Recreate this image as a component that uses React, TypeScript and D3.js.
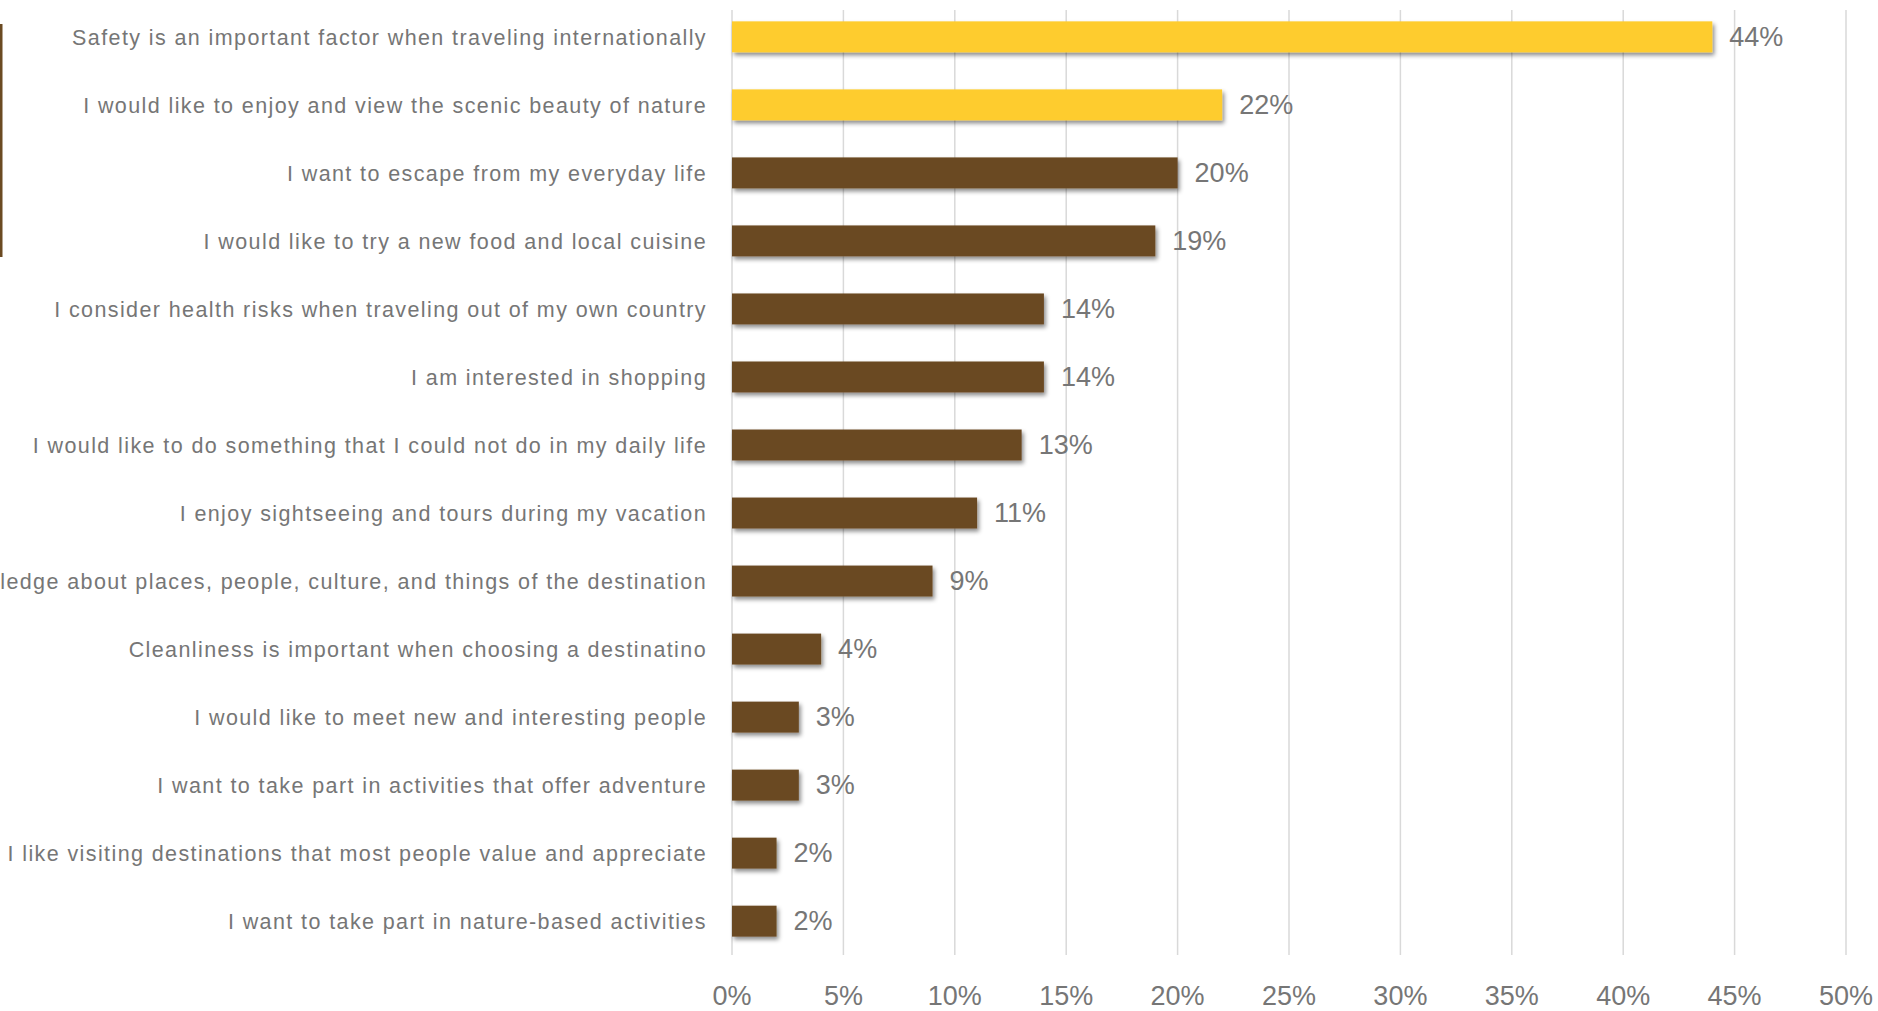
import React from "react";
import * as d3 from "d3";

const categories = [
  "Safety is an important factor when traveling internationally",
  "I would like to enjoy and view the scenic beauty of nature",
  "I want to escape from my everyday life",
  "I would like to try a new food and local cuisine",
  "I consider health risks when traveling out of my own country",
  "I am interested in shopping",
  "I would like to do something that I could not do in my daily life",
  "I enjoy sightseeing and tours during my vacation",
  "I want to gain knowledge about places, people, culture, and things of the destination",
  "Cleanliness is important when choosing a destinatino",
  "I would like to meet new and interesting people",
  "I want to take part in activities that offer adventure",
  "I like visiting destinations that most people value and appreciate",
  "I want to take part in nature-based activities",
];
const values = [44, 22, 20, 19, 14, 14, 13, 11, 9, 4, 3, 3, 2, 2];
const highlighted = [true, true, false, false, false, false, false, false, false, false, false, false, false, false];
const xTicks = [0, 5, 10, 15, 20, 25, 30, 35, 40, 45, 50];

const W = 1878;
const H = 1011;
const FONT = "'Liberation Sans', Arial, sans-serif";
const TEXT = "#767676";

export default function App() {
  const x = d3.scaleLinear().domain([0, 50]).range([732, 1846]);
  const y = d3.scaleBand<string>().domain(categories).range([3, 955]).paddingInner(0.545).paddingOuter(0.27);
  const bh = y.bandwidth();
  return (
    <svg width={W} height={H} style={{ position: "absolute", left: 0, top: 0, background: "#fff" }}>
      <defs>
        <filter id="shadow" x="-5%" y="-20%" width="120%" height="160%">
          <feDropShadow dx="2" dy="3" stdDeviation="2" floodColor="#000" floodOpacity="0.45" />
        </filter>
      </defs>
      <rect x={0} y={0} width={W} height={H} fill="#fff" />
      <rect x={0} y={24} width={2.5} height={233} fill="#6B4A22" />
      {xTicks.map((t) => (
        <line key={t} x1={x(t)} x2={x(t)} y1={10} y2={955} stroke="#d9d9d9" strokeWidth={1.5} />
      ))}
      {categories.map((c, i) => (
        <g key={c}>
          <rect
            x={x(0)}
            y={y(c)}
            width={x(values[i]) - x(0)}
            height={bh}
            fill={highlighted[i] ? "#FECC2F" : "#6B4A23"}
            filter="url(#shadow)"
          />
          <text
            x={707}
            y={(y(c) as number) + bh / 2 + 1}
            textAnchor="end"
            dominantBaseline="central"
            fontFamily={FONT}
            fontSize={21.5}
            letterSpacing={1.4}
            fill={TEXT}
          >
            {c}
          </text>
          <text
            x={x(values[i]) + 17}
            y={(y(c) as number) + bh / 2}
            dominantBaseline="central"
            fontFamily={FONT}
            fontSize={27}
            fill={TEXT}
          >
            {values[i]}%
          </text>
        </g>
      ))}
      {xTicks.map((t) => (
        <text
          key={"l" + t}
          x={x(t)}
          y={996}
          textAnchor="middle"
          dominantBaseline="central"
          fontFamily={FONT}
          fontSize={27}
          fill={TEXT}
        >
          {t}%
        </text>
      ))}
    </svg>
  );
}
